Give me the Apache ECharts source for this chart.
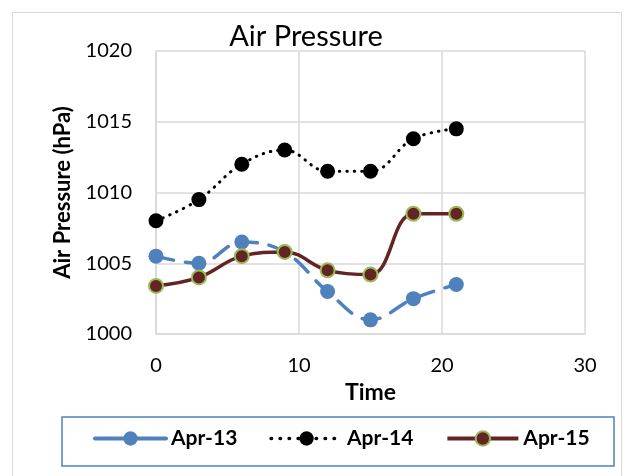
<!DOCTYPE html>
<html>
<head>
<meta charset="utf-8">
<script src="https://cdn.jsdelivr.net/npm/echarts@6/dist/echarts.min.js"></script>
<style>
  html, body { margin: 0; padding: 0; background: #fff; }
  #chart { width: 626px; height: 476px; }
</style>
</head>
<body>
<div id="chart"></div>
<script>
// readings, hPa, every 3 hours
const times = [0, 3, 6, 9, 12, 15, 18, 21];
const apr13 = [1005.5, 1005.0, 1006.5, 1005.8, 1003.0, 1001.0, 1002.5, 1003.5];
const apr14 = [1008.0, 1009.5, 1012.0, 1013.0, 1011.5, 1011.5, 1013.8, 1014.5];
const apr15 = [1003.4, 1004.0, 1005.5, 1005.8, 1004.5, 1004.2, 1008.5, 1008.5];

const font = 'Lato, "Open Sans", sans-serif';
const pairs = arr => times.map((t, i) => [t, arr[i]]);

const chart = echarts.init(document.getElementById('chart'));

chart.setOption({
  animation: false,
  textStyle: { fontFamily: font },
  graphic: [
    {
      type: 'rect',
      shape: { x: 12.5, y: 12.5, width: 609, height: 470 },
      style: { fill: 'none', stroke: '#D9D9D9', lineWidth: 1 },
      silent: true
    },
    {
      // legend frame
      type: 'rect',
      shape: { x: 62, y: 417, width: 552, height: 49 },
      style: { fill: 'none', stroke: '#4F81BD', lineWidth: 1.5 },
      silent: true
    }
  ],
  title: {
    text: 'Air Pressure',
    left: 301,
    textAlign: 'center',
    top: 17,
    textStyle: { fontFamily: font, fontSize: 29, fontWeight: 'normal', color: '#000' }
  },
  legend: {
    left: 93,
    top: 428,
    padding: 0,
    itemGap: 32,
    itemWidth: 71,
    itemHeight: 18,
    textStyle: { fontFamily: font, fontSize: 21, fontWeight: 'bold', color: '#000' },
    data: [
      { name: 'Apr-13', lineStyle: { type: 'solid', width: 4 } },
      { name: 'Apr-14', lineStyle: { width: 3.5, type: [0.5, 8.5] } },
      { name: 'Apr-15', lineStyle: { width: 4 } }
    ]
  },
  grid: { left: 156, right: 41, top: 51, bottom: 142 },
  xAxis: {
    type: 'value',
    min: 0, max: 30, interval: 10,
    name: 'Time',
    nameLocation: 'middle',
    nameGap: 44,
    nameTextStyle: { fontFamily: font, fontSize: 23, fontWeight: 'bold', color: '#000' },
    axisLine: { show: true, lineStyle: { color: '#D9D9D9', width: 1.5 } },
    axisTick: { show: false },
    axisLabel: { margin: 22, fontSize: 20, color: '#000', fontFamily: font },
    splitLine: { show: true, lineStyle: { color: '#D9D9D9', width: 1.5 } }
  },
  yAxis: {
    type: 'value',
    min: 1000, max: 1020, interval: 5,
    name: 'Air Pressure (hPa)',
    nameLocation: 'middle',
    nameGap: 82,
    nameTextStyle: { fontFamily: font, fontSize: 22, fontWeight: 'bold', color: '#000' },
    axisLine: { show: true, lineStyle: { color: '#D9D9D9', width: 1.5 } },
    axisTick: { show: false },
    axisLabel: { margin: 24, fontSize: 20, color: '#000', fontFamily: font, formatter: v => String(v) },
    splitLine: { show: true, lineStyle: { color: '#D9D9D9', width: 1.5 } }
  },
  series: [
    {
      name: 'Apr-13',
      type: 'line',
      smooth: 0.4,
      data: pairs(apr13),
      symbol: 'circle',
      symbolSize: 15,
      itemStyle: { color: '#4F81BD' },
      lineStyle: { color: '#4F81BD', width: 3.5, type: [18, 12], cap: 'round' }
    },
    {
      name: 'Apr-14',
      type: 'line',
      smooth: 0.4,
      data: pairs(apr14),
      symbol: 'circle',
      symbolSize: 15,
      itemStyle: { color: '#000' },
      lineStyle: { color: '#000', width: 3, type: [0.5, 7], cap: 'round' }
    },
    {
      name: 'Apr-15',
      type: 'line',
      smooth: 0.4,
      data: pairs(apr15),
      symbol: 'circle',
      symbolSize: 14,
      itemStyle: { color: '#632523', borderColor: '#9BBB59', borderWidth: 2 },
      lineStyle: { color: '#632523', width: 3.5 }
    }
  ]
});
</script>
</body>
</html>
